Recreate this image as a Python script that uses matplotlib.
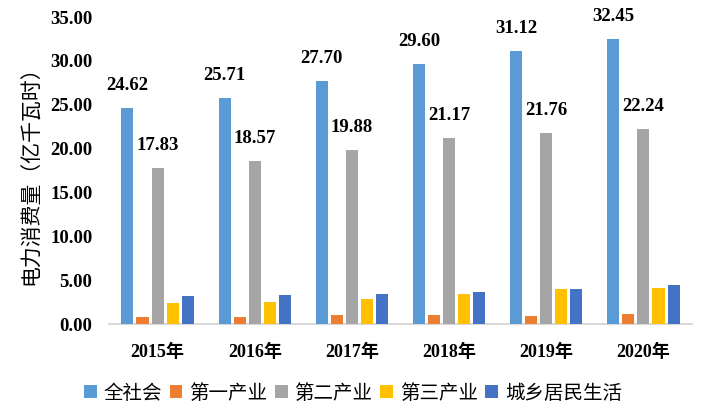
import matplotlib
matplotlib.use("Agg")
import matplotlib.pyplot as plt
import numpy as np

years = ["2015年", "2016年", "2017年", "2018年", "2019年", "2020年"]
series_names = ["全社会", "第一产业", "第二产业", "第三产业", "城乡居民生活"]
total = [24.62, 25.71, 27.70, 29.60, 31.12, 32.45]
primary = [0.80, 0.80, 1.03, 1.03, 0.91, 1.14]
secondary = [17.83, 18.57, 19.88, 21.17, 21.76, 22.24]
tertiary = [2.40, 2.50, 2.85, 3.42, 4.00, 4.10]
residential = [3.20, 3.30, 3.42, 3.65, 4.00, 4.45]
colors = ["#5B9BD5", "#ED7D31", "#A5A5A5", "#FFC000", "#4472C4"]
yticks = [0, 5, 10, 15, 20, 25, 30, 35]

data = [total, primary, secondary, tertiary, residential]
labeled = {0, 2}

fig = plt.figure(figsize=(7.06, 4.15), dpi=100)
ax = fig.add_axes([109/706, (415-324)/415, (692-109)/706, (324-17)/415])

x = np.arange(len(years))
pitch = 0.155
bw = 0.124
serif = ["Liberation Serif", "Noto Sans CJK SC"]
for i, (vals, c, name) in enumerate(zip(data, colors, series_names)):
    pos = x + (i - 2) * pitch
    ax.bar(pos, vals, width=bw, color=c, label=name, zorder=3)
    if i in labeled:
        for px, v in zip(pos, vals):
            ax.text(px, v + 1.6, f"{v:.2f}", ha="center", va="bottom",
                    fontsize=13.5, fontweight="bold", family=serif)

ax.set_xlim(-0.5, len(years) - 0.5)
ax.set_ylim(0, 35)
ax.set_yticks(yticks)
ax.set_yticklabels([f"{t:.2f}" for t in yticks], fontsize=13.5, fontweight="bold", family=serif)
ax.set_xticks(x)
ax.set_xticklabels(years, fontsize=13, fontweight="bold", family=serif)
ax.tick_params(axis="both", length=0)
ax.tick_params(axis="x", pad=14)
ax.tick_params(axis="y", pad=12)
for s in ["top", "right", "left"]:
    ax.spines[s].set_visible(False)
ax.spines["bottom"].set_color("#D9D9D9")
ax.spines["bottom"].set_linewidth(1.5)

ax.set_ylabel("电力消费量（亿千瓦时）", fontsize=15, family=["Noto Sans CJK SC", "DejaVu Sans"], labelpad=6)

fig.legend(loc="center", bbox_to_anchor=(0.5, (415-393)/415), ncol=5, frameon=False,
           prop={"family": ["Noto Sans CJK SC", "DejaVu Sans"], "size": 14},
           handlelength=0.65, handleheight=0.65, handletextpad=0.35, columnspacing=0.4)

fig.savefig("out.png", dpi=100)
